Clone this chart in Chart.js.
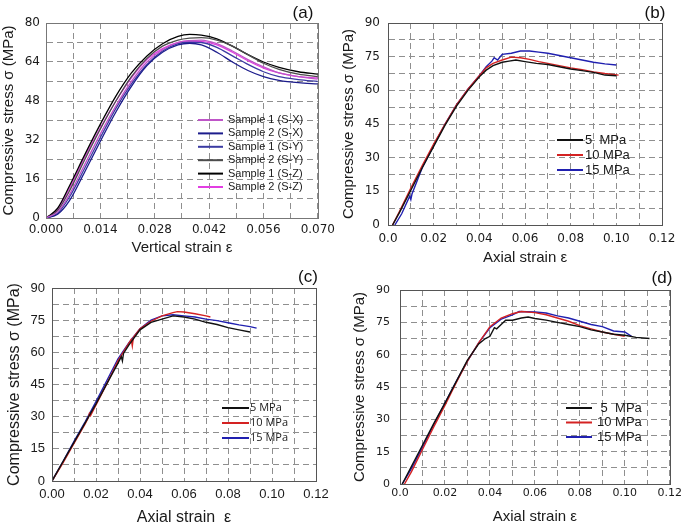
<!DOCTYPE html>
<html>
<head>
<meta charset="utf-8">
<script src="https://cdn.jsdelivr.net/npm/chart.js@4.4.0/dist/chart.umd.min.js"></script>
<style>
  body { margin: 0; background: #fff; }
  #wrap { position: relative; width: 685px; height: 527px; overflow: hidden; }
  canvas { position: absolute; }
</style>
</head>
<body>
<div id="wrap">
  <canvas id="pa" width="340" height="262" style="left:0;top:0"></canvas>
  <canvas id="pb" width="345" height="272" style="left:340px;top:0"></canvas>
  <canvas id="pc" width="340" height="265" style="left:0;top:262px"></canvas>
  <canvas id="pd" width="345" height="265" style="left:340px;top:262px"></canvas>
</div>
<script>
// ---- panel (a): vertical strain, six samples on one strain grid
const strainA = [0, 0.003, 0.006, 0.010, 0.014, 0.018, 0.022, 0.026, 0.030, 0.034, 0.037, 0.040, 0.044, 0.048, 0.052, 0.056, 0.060, 0.065, 0.070];
const s1SX = [0, 2.5, 9.5, 22, 34.5, 46, 56, 64, 69, 72, 72.8, 73, 71.5, 68.5, 65, 62, 59.5, 58, 57];
const s2SX = [0, 1.5, 7, 19, 31.5, 43.5, 54, 62.5, 68, 71, 71.7, 71, 68, 64, 60.5, 58, 56.5, 55.5, 55];
const s1SY = [0, 2, 8.5, 20.5, 33, 45, 55, 63, 68.5, 71.5, 72.1, 72, 70, 66.5, 63, 60, 58, 56.8, 56];
const s2SY = [0, 3, 11, 24, 36.5, 48, 58, 65.5, 70.5, 73, 73.8, 74, 73, 70.5, 67, 63.5, 61, 59, 58];
const s1SZ = [0, 4, 13, 26, 38.5, 50, 59.5, 66.5, 71.5, 74.5, 75.3, 75, 73.5, 70.5, 67, 64, 61.8, 60, 59];
const s2SZ = [0, 3.5, 12, 25, 37, 48, 57.5, 65, 69.5, 72, 72.6, 72.5, 71, 68, 64.5, 61.5, 59.5, 58, 57.5];
const labelsA = ['Sample 1 (S-X)', 'Sample 2 (S-X)', 'Sample 1 (S-Y)', 'Sample 2 (S-Y)', 'Sample 1 (S-Z)', 'Sample 2 (S-Z)'];

// ---- panel (b)
const strainB5 = [0.002, 0.005, 0.010, 0.015, 0.020, 0.025, 0.030, 0.035, 0.040, 0.043, 0.046, 0.050, 0.053, 0.056, 0.060, 0.065, 0.070, 0.075, 0.080, 0.085, 0.090, 0.095, 0.100];
const stressB5 = [0, 5.5, 15.5, 25.5, 35, 44.5, 53, 60, 66, 69, 71, 72.5, 73, 73.5, 72.8, 72, 71.5, 70.5, 69.5, 68.8, 68, 66.8, 66.5];
const strainB10 = [0.002, 0.005, 0.010, 0.015, 0.020, 0.025, 0.030, 0.035, 0.040, 0.043, 0.046, 0.050, 0.054, 0.058, 0.062, 0.066, 0.070, 0.075, 0.080, 0.085, 0.090, 0.095, 0.101];
const stressB10 = [0, 6, 16.5, 26.5, 36, 45, 53.5, 60.5, 66.5, 70, 72, 73.5, 74.8, 74.5, 73.8, 72.8, 72, 71, 70, 69.2, 68.2, 67.5, 66.8];
const strainB15 = [0.003, 0.006, 0.0095, 0.010, 0.0105, 0.015, 0.020, 0.025, 0.030, 0.035, 0.040, 0.043, 0.0455, 0.0465, 0.048, 0.050, 0.054, 0.058, 0.062, 0.066, 0.070, 0.075, 0.080, 0.085, 0.090, 0.095, 0.100];
const stressB15 = [0, 5, 12.8, 11.3, 13.8, 25.5, 35.5, 45, 53.5, 60.5, 66.5, 70.5, 73, 74.5, 73.5, 76, 76.5, 77.5, 77.5, 77, 76.5, 75.5, 74.5, 73.5, 72.5, 71.8, 71.3];

// ---- panel (c)
const strainC5 = [0, 0.005, 0.010, 0.015, 0.020, 0.025, 0.030, 0.0315, 0.032, 0.0325, 0.035, 0.040, 0.045, 0.050, 0.055, 0.060, 0.065, 0.070, 0.075, 0.080, 0.085, 0.090];
const stressC5 = [0, 9, 18, 27, 36, 45.5, 55, 58, 56, 59.5, 63.5, 70.5, 74, 75.5, 77, 76.5, 75.5, 74, 73, 71.5, 70.5, 69.5];
const strainC10 = [0, 0.005, 0.010, 0.015, 0.0165, 0.017, 0.0175, 0.020, 0.025, 0.030, 0.033, 0.036, 0.0365, 0.037, 0.040, 0.045, 0.050, 0.055, 0.057, 0.060, 0.065, 0.070, 0.072];
const stressC10 = [0, 8.5, 17.5, 26.5, 29.5, 31.5, 30.5, 35.5, 45.5, 56, 61, 66, 63, 67, 71, 74.5, 77, 78.5, 79, 78.8, 78, 77, 76.5];
const strainC15 = [0, 0.005, 0.010, 0.015, 0.020, 0.025, 0.030, 0.035, 0.040, 0.045, 0.050, 0.055, 0.060, 0.065, 0.070, 0.075, 0.080, 0.085, 0.090, 0.093];
const stressC15 = [0, 9, 18.5, 27.5, 37, 47, 57, 64.5, 71, 75, 77, 77.5, 77, 76.5, 75.5, 74.8, 73.8, 72.8, 72, 71.3];

// ---- panel (d)
const strainD5 = [0.001, 0.005, 0.010, 0.015, 0.020, 0.025, 0.030, 0.035, 0.038, 0.040, 0.042, 0.043, 0.045, 0.047, 0.050, 0.054, 0.057, 0.060, 0.065, 0.070, 0.075, 0.080, 0.085, 0.090, 0.095, 0.100, 0.105, 0.111];
const stressD5 = [0, 8, 18, 28, 37.5, 47.5, 57.5, 65, 67.5, 68.5, 72.5, 72, 74, 76, 76, 77, 77.5, 76.8, 76, 75, 74, 73, 71.5, 70.5, 69.5, 69, 68, 67.5];
const strainD10 = [0.002, 0.005, 0.010, 0.015, 0.020, 0.025, 0.030, 0.035, 0.040, 0.045, 0.050, 0.054, 0.060, 0.065, 0.070, 0.075, 0.080, 0.085, 0.090, 0.095, 0.100];
const stressD10 = [0, 5.5, 16, 26.5, 36.5, 47, 57, 65.5, 73, 77, 79, 80, 79.5, 78.5, 77, 75.5, 73.5, 72, 70.5, 69.5, 68.5];
const strainD15 = [0.001, 0.005, 0.010, 0.015, 0.020, 0.025, 0.030, 0.035, 0.040, 0.045, 0.050, 0.053, 0.060, 0.065, 0.070, 0.075, 0.080, 0.085, 0.090, 0.095, 0.100, 0.103];
const stressD15 = [0, 7, 17, 27.5, 37.5, 47.5, 57, 65.5, 72.5, 76.5, 78.5, 80, 79.8, 79.3, 78, 77, 75.5, 74, 73, 71, 70.5, 68.5];

const yTitle = 'Compressive stress σ (MPa)';

function pts(xs, ys) {
  return xs.map((x, i) => ({ x: x, y: ys[i] }));
}

// box around the plot area
const frame = {
  id: 'frame',
  afterDraw(chart, args, opts) {
    const a = chart.chartArea, c = chart.ctx;
    c.save();
    c.strokeStyle = opts.color;
    c.lineWidth = 1;
    c.strokeRect(Math.round(a.left) + 0.5, Math.round(a.top) + 0.5, Math.round(a.right - a.left), Math.round(a.bottom - a.top));
    c.restore();
  }
};

// legend drawn inside the plot, placed by hand like the original
const sideLegend = {
  id: 'sideLegend',
  afterDatasetsDraw(chart, args, opts) {
    const c = chart.ctx;
    c.save();
    c.font = opts.font;
    c.textBaseline = 'middle';
    c.fillStyle = '#1a1a1a';
    chart.data.datasets.forEach((ds, i) => {
      const y = opts.y + i * opts.row;
      c.strokeStyle = ds.borderColor;
      c.lineWidth = 2;
      c.beginPath();
      c.moveTo(opts.x, y);
      c.lineTo(opts.x + opts.len, y);
      c.stroke();
      c.fillText(ds.label, opts.x + opts.len + opts.gap, y);
    });
    c.restore();
  }
};

const panelTag = {
  id: 'panelTag',
  afterDraw(chart, args, opts) {
    const c = chart.ctx;
    c.save();
    c.font = '17px "Liberation Sans", Arial, sans-serif';
    c.fillStyle = '#111';
    c.textAlign = 'center';
    c.textBaseline = 'middle';
    c.fillText(opts.text, opts.x, opts.y);
    c.restore();
  }
};

function panel(id, o) {
  return new Chart(document.getElementById(id), {
    type: 'line',
    data: { datasets: o.datasets },
    options: {
      responsive: false,
      animation: false,
      devicePixelRatio: 1,
      layout: { padding: { left: 0, bottom: 0, top: o.padTop, right: o.padRight } },
      elements: { point: { radius: 0 }, line: { borderWidth: 1.4, tension: o.tension || 0, cubicInterpolationMode: o.cubic || 'default' } },
      plugins: {
        legend: { display: false },
        tooltip: { enabled: false },
        frame: { color: o.frameColor },
        sideLegend: o.legend,
        panelTag: o.tag
      },
      scales: {
        x: {
          type: 'linear',
          min: 0,
          max: o.xMax,
          afterFit: s => { s.height = o.xH; },
          ticks: {
            stepSize: o.xStep,
            autoSkip: false,
            maxRotation: 0,
            padding: o.xPad,
            color: '#1a1a1a',
            font: o.tickFont,
            callback: o.xFmt
          },
          grid: { color: '#8f8f8f', drawTicks: false },
          border: { color: o.frameColor, dash: [6, 4] },
          title: { display: true, text: o.xTitle, color: '#1a1a1a', font: o.titleFont, padding: { top: 0, bottom: o.xTitlePad } }
        },
        y: {
          type: 'linear',
          min: 0,
          max: o.yMax,
          afterFit: s => { s.width = o.yW; },
          ticks: {
            stepSize: o.yStep,
            autoSkip: false,
            padding: o.yPad,
            color: '#1a1a1a',
            font: o.tickFont,
            callback: o.yFmt
          },
          grid: { color: '#8f8f8f', drawTicks: false },
          border: { color: o.frameColor, dash: [6, 4] },
          title: { display: true, text: yTitle, color: '#1a1a1a', font: o.titleFont, padding: { top: o.yTitlePad, bottom: 0 } }
        }
      }
    },
    plugins: [frame, sideLegend, panelTag]
  });
}

const sans = '"Liberation Sans", Arial, sans-serif';
const fmt2 = (v, i) => (i % 2 ? '' : (i === 0 ? '0.0' : v.toFixed(2)));
const y15 = v => (Math.round(v * 10) % 150 === 0 ? v : '');

const colA = ['#bf55c8', '#1c1c8c', '#3b3ba2', '#4d4d4d', '#000000', '#e23ee2'];
const seriesA = [s1SX, s2SX, s1SY, s2SY, s1SZ, s2SZ];

panel('pa', {
  datasets: seriesA.map((s, i) => ({ label: labelsA[i], data: pts(strainA, s), borderColor: colA[i], borderWidth: 1.3 })),
  padTop: 23, padRight: 18, xH: 44, yW: 46,
  xMax: 0.07, xStep: 0.007, yMax: 80, yStep: 8,
  xFmt: (v, i) => (i % 2 ? '' : v.toFixed(3)),
  yFmt: v => (Math.round(v) % 16 === 0 ? v : ''),
  xPad: 5, yPad: 6, xTitlePad: 5, yTitlePad: 0,
  tension: 0.4, cubic: 'monotone',
  tickFont: { family: '"DejaVu Sans", Verdana, sans-serif', size: 12 },
  titleFont: { family: sans, size: 15 },
  xTitle: 'Vertical strain ε',
  frameColor: '#777',
  legend: { x: 198, y: 120, row: 13.4, len: 25, gap: 5, font: '11px ' + sans },
  tag: { text: '(a)', x: 303, y: 13 }
});

const col3 = ['#111111', '#d42222', '#2020b0'];
const lab3 = ['5  MPa', '10 MPa', '15 MPa'];

panel('pb', {
  datasets: [
    { label: lab3[0], data: pts(strainB5, stressB5), borderColor: col3[0] },
    { label: lab3[1], data: pts(strainB10, stressB10), borderColor: col3[1] },
    { label: lab3[2], data: pts(strainB15, stressB15), borderColor: col3[2] }
  ],
  padTop: 23, padRight: 23, xH: 47, yW: 48,
  xMax: 0.12, xStep: 0.01, yMax: 90, yStep: 7.5,
  xFmt: fmt2, yFmt: y15,
  xPad: 7, yPad: 8, xTitlePad: 5, yTitlePad: 0,
  tickFont: { family: '"DejaVu Sans", Verdana, sans-serif', size: 12 },
  titleFont: { family: sans, size: 15 },
  xTitle: 'Axial strain ε',
  frameColor: '#555',
  legend: { x: 217, y: 140, row: 15, len: 26, gap: 2, font: '13px ' + sans },
  tag: { text: '(b)', x: 315, y: 13 }
});

panel('pc', {
  datasets: [
    { label: '5 MPa', data: pts(strainC5, stressC5), borderColor: col3[0] },
    { label: '10 MPa', data: pts(strainC10, stressC10), borderColor: col3[1] },
    { label: '15 MPa', data: pts(strainC15, stressC15), borderColor: col3[2] }
  ],
  padTop: 26, padRight: 24, xH: 46, yW: 52,
  xMax: 0.12, xStep: 0.01, yMax: 90, yStep: 7.5,
  xFmt: (v, i) => (i % 2 ? '' : v.toFixed(2)), yFmt: y15,
  xPad: 6, yPad: 7, xTitlePad: 0, yTitlePad: 5,
  tickFont: { family: sans, size: 13 },
  titleFont: { family: sans, size: 16 },
  xTitle: 'Axial strain  ε',
  frameColor: '#555',
  legend: { x: 222, y: 146, row: 15, len: 27, gap: 1, font: '11px "Open Sans", ' + sans },
  tag: { text: '(c)', x: 308, y: 15 }
});

panel('pd', {
  datasets: [
    { label: ' 5  MPa', data: pts(strainD5, stressD5), borderColor: col3[0] },
    { label: lab3[1], data: pts(strainD10, stressD10), borderColor: col3[1] },
    { label: lab3[2], data: pts(strainD15, stressD15), borderColor: col3[2] }
  ],
  padTop: 28, padRight: 13, xH: 43, yW: 60,
  xMax: 0.12, xStep: 0.01, yMax: 90, yStep: 7.5,
  xFmt: fmt2, yFmt: y15,
  xPad: 3, yPad: 10, xTitlePad: 1, yTitlePad: 11,
  tickFont: { family: '"DejaVu Sans", Verdana, sans-serif', size: 11 },
  titleFont: { family: sans, size: 15 },
  xTitle: 'Axial strain ε',
  frameColor: '#555',
  legend: { x: 226, y: 146, row: 14.5, len: 26, gap: 5, font: '13px ' + sans },
  tag: { text: '(d)', x: 322, y: 16 }
});
</script>
</body>
</html>
